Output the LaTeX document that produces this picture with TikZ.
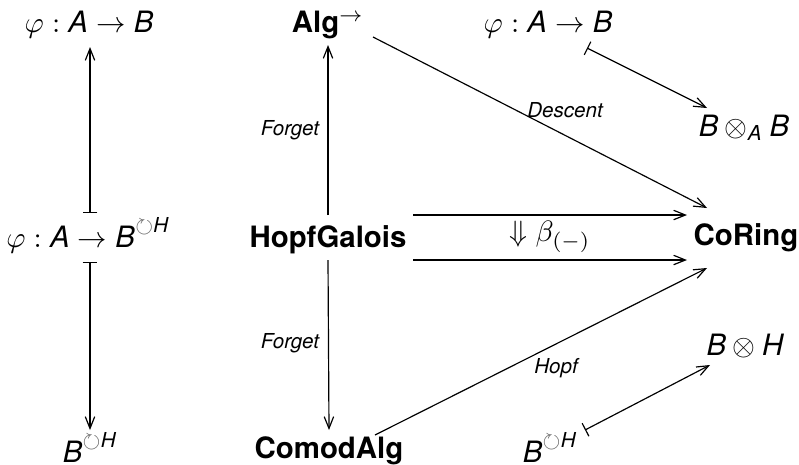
\documentclass[tikz,border=0pt]{standalone}
\usepackage{amsmath}
\usepackage{amssymb}
\usepackage{fontspec}
\setmainfont{TeX Gyre Heros}
\usetikzlibrary{arrows.meta,calc}
\newcommand{\mA}{\textit{A}}
\newcommand{\mB}{\textit{B}}
\newcommand{\mH}{\textit{H}}
\newcommand{\cH}{{\color{black!60}\circlearrowright}\textit{H}}
\begin{document}
\begin{tikzpicture}[x=0.34pt,y=-0.34pt,
  obj/.style={anchor=base,inner sep=0pt},
  cat/.style={obj,font=\bfseries},
  lab/.style={inner sep=0pt,font=\fontsize{7}{8}\selectfont\itshape},
  ar/.style={line width=0.4pt,-{Straight Barb[length=4pt,width=3.2pt]}},
  mt/.style={line width=0.4pt,{Bar[width=5pt]}-{Straight Barb[length=4pt,width=3.2pt]}}]
\useasboundingbox (0,0) rectangle (799,464);
% left column
\node[obj] (L1) at (89,32) {$\varphi : \mA \to \mB$};
\node[obj] (L2) at (88,247) {$\varphi : \mA \to \mB^{\cH}$};
\node[obj] (L3) at (90,462) {$\mB^{\cH}$};
% middle column
\node[cat] (Alg) at (328,32) {Alg$^{\to}$};
\node[cat] (HG) at (328,247) {HopfGalois};
\node[cat] (CA) at (329,458) {ComodAlg};
\node[cat] (CR) at (746,245) {CoRing};
% right
\node[obj] (R1) at (548,32) {$\varphi : \mA \to \mB$};
\node[obj] (RA) at (744,136) {$\mB \otimes_{\mA} \mB$};
\node[obj] (RH) at (745,355) {$\mB \otimes \mH$};
\node[obj] (R3) at (550,462) {$\mB^{\cH}$};
% labels
\node[lab] (F1) at (290,130) {Forget};
\node[lab] (F2) at (290,343) {Forget};
\node[lab] (De) at (565,110) {Descent};
\node[lab] (Ho) at (556,368) {Hopf};
\node[inner sep=0pt] (be) at (550,237) {$\Downarrow \beta_{(-)}$};
% left arrows
\draw[mt] ($(L2.base)+(2,-34)$) -- ($(L1.base)+(1,15)$);
\draw[mt] ($(L2.base)+(2,15)$) -- ($(L3.base)+(0,-32)$);
% middle arrows
\draw[ar] ($(HG.base)+(0,-32)$) -- ($(Alg.base)+(0,13)$);
\draw[ar] ($(HG.base)+(0,13)$) -- ($(CA.base)+(0,-28)$);
\draw[ar] ($(HG.base)+(85,-32)$) -- ($(CR.base)+(-59,-30)$);
\draw[ar] ($(HG.base)+(85,13)$) -- ($(CR.base)+(-59,15)$);
\draw[ar] ($(Alg.base)+(45,5)$) -- ($(CR.base)+(-39,-37)$);
\draw[ar] ($(CA.base)+(46,-23)$) -- ($(CR.base)+(-39,23)$);
% right mapsto
\draw[mt] ($(R1.base)+(39,16)$) -- ($(RA.base)+(-37,-28)$);
\draw[mt] ($(R3.base)+(35,-32)$) -- ($(RH.base)+(-35,10)$);
\end{tikzpicture}
\end{document}
